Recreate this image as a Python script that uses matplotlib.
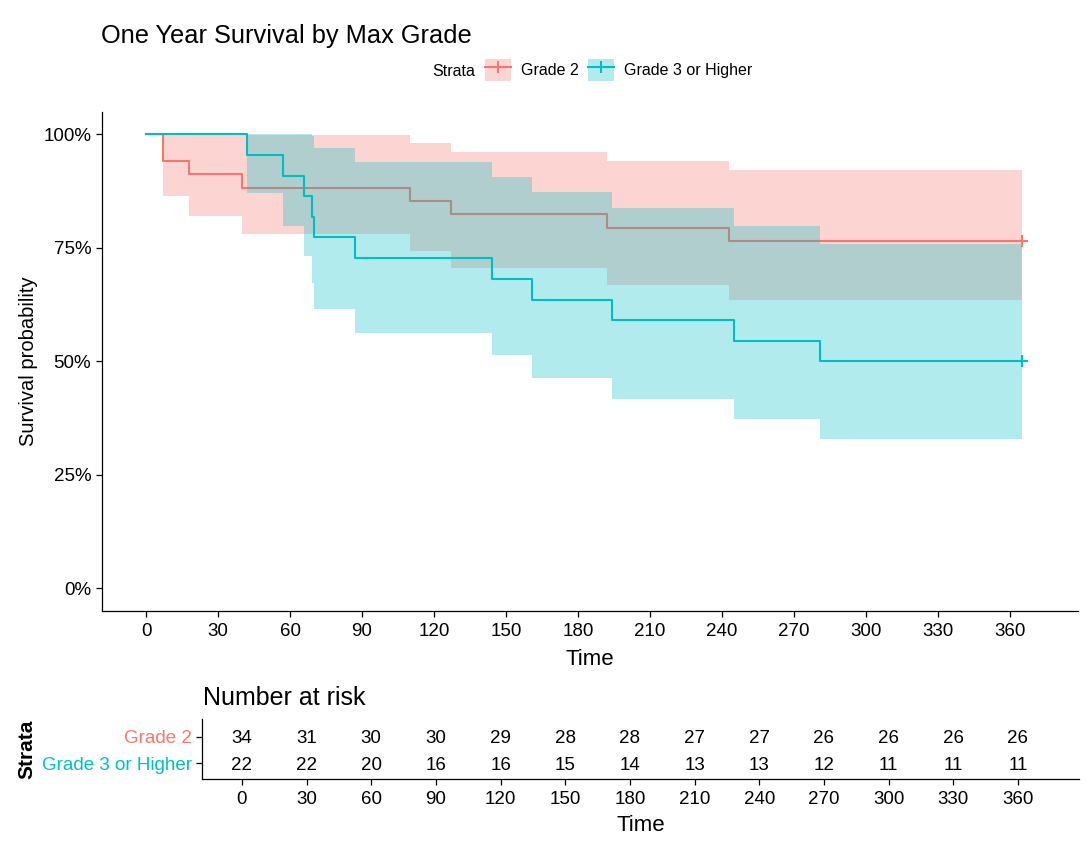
import matplotlib
matplotlib.use('Agg')
import matplotlib.pyplot as plt
from matplotlib.patches import Patch
from matplotlib.lines import Line2D
from matplotlib.ticker import PercentFormatter

# Kaplan-Meier estimates
grade2_time = [0, 7, 18, 40, 110, 127, 192, 243, 365]
grade2_surv = [1.0, 0.941, 0.912, 0.882, 0.853, 0.824, 0.794, 0.765, 0.765]
grade2_lower = [1.0, 0.865, 0.821, 0.781, 0.742, 0.705, 0.669, 0.635, 0.635]
grade2_upper = [1.0, 1.0, 1.0, 0.998, 0.981, 0.962, 0.942, 0.922, 0.922]

grade3_time = [0, 42, 57, 66, 69, 70, 87, 144, 161, 194, 245, 281, 365]
grade3_surv = [1.0, 0.955, 0.909, 0.864, 0.818, 0.773, 0.727, 0.682, 0.636,
               0.591, 0.545, 0.5, 0.5]
grade3_lower = [1.0, 0.871, 0.797, 0.732, 0.672, 0.616, 0.563, 0.513, 0.464,
                0.417, 0.372, 0.329, 0.329]
grade3_upper = [1.0, 1.0, 1.0, 1.0, 0.996, 0.969, 0.939, 0.907, 0.873,
                0.837, 0.799, 0.759, 0.759]

# number at risk table
risk_times = [0, 30, 60, 90, 120, 150, 180, 210, 240, 270, 300, 330, 360]
grade2_risk = [34, 31, 30, 30, 29, 28, 28, 27, 27, 26, 26, 26, 26]
grade3_risk = [22, 22, 20, 16, 16, 15, 14, 13, 13, 12, 11, 11, 11]

strata = ['Grade 2', 'Grade 3 or Higher']
RED = '#F8766D'
TEAL = '#00BFC4'

plt.rcParams.update({
    'font.family': ['Liberation Sans', 'DejaVu Sans'],
    'axes.spines.top': False,
    'axes.spines.right': False,
    'axes.linewidth': 0.9,
    'xtick.major.size': 4,
    'ytick.major.size': 4,
    'xtick.major.width': 0.9,
    'ytick.major.width': 0.9,
})

W, H = 1090, 843
fig = plt.figure(figsize=(W / 100, H / 100), dpi=100)


def px_axes(left, top, right, bottom):
    return fig.add_axes([left / W, 1 - bottom / H, (right - left) / W, (bottom - top) / H])


# ---- survival curves
ax = px_axes(101.7, 111.7, 1077.7, 610.7)

ax.fill_between(grade2_time, grade2_lower, grade2_upper, step='post',
                color=RED, alpha=0.3, linewidth=0, zorder=1)
ax.step(grade2_time, grade2_surv, where='post', color=RED, lw=1.5, zorder=2)
ax.fill_between(grade3_time, grade3_lower, grade3_upper, step='post',
                color=TEAL, alpha=0.3, linewidth=0, zorder=3)
ax.step(grade3_time, grade3_surv, where='post', color=TEAL, lw=1.5, zorder=4)

# censor marks at end of follow-up
ax.plot(grade2_time[-1], grade2_surv[-1], marker='+', color=RED, ms=9, mew=1.5, zorder=5)
ax.plot(grade3_time[-1], grade3_surv[-1], marker='+', color=TEAL, ms=9, mew=1.5, zorder=5)

ax.set_xlim(-18.5, 388.3)
ax.set_ylim(-0.05, 1.05)
ax.set_xticks(risk_times)
ax.set_yticks([0, 0.25, 0.5, 0.75, 1.0])
ax.yaxis.set_major_formatter(PercentFormatter(1.0, decimals=0))
ax.tick_params(labelsize=13.5, colors='black')
ax.tick_params(axis='x', pad=5)
ax.set_xlabel('Time', fontsize=16, labelpad=6)
ax.set_ylabel('Survival probability', fontsize=14.5, labelpad=4)

fig.text(101 / W, 1 - 43 / H, 'One Year Survival by Max Grade', fontsize=18.3,
         ha='left', va='baseline')

# ---- legend
fig.text(432 / W, 1 - 71 / H, 'Strata', fontsize=11.5, ha='left', va='center')
handles = [
    (Patch(facecolor=RED, alpha=0.3, linewidth=0),
     Line2D([], [], color=RED, lw=1.5, marker='+', ms=9, mew=1.5)),
    (Patch(facecolor=TEAL, alpha=0.3, linewidth=0),
     Line2D([], [], color=TEAL, lw=1.5, marker='+', ms=9, mew=1.5)),
]
fig.legend(handles, strata, ncol=2, frameon=False, fontsize=11.5,
           loc='center left', bbox_to_anchor=(485 / W, 1 - 70 / H),
           handlelength=1.6, handleheight=1.8, handletextpad=0.65,
           columnspacing=0.6, borderpad=0, borderaxespad=0)

# ---- risk table
rax = px_axes(202, 719.3, 1079, 779)
for t, n2, n3 in zip(risk_times, grade2_risk, grade3_risk):
    rax.text(t, 2, str(n2), ha='center', va='center_baseline', fontsize=13.5)
    rax.text(t, 1, str(n3), ha='center', va='center_baseline', fontsize=13.5)

rax.set_xlim(-18.5, 388.3)
rax.set_ylim(0.4, 2.65)
rax.set_xticks(risk_times)
rax.set_yticks([2, 1])
rax.set_yticklabels(strata)
for lab, col in zip(rax.get_yticklabels(), [RED, TEAL]):
    lab.set_color(col)
rax.tick_params(labelsize=13.5)
rax.tick_params(axis='x', pad=4.5)
rax.set_xlabel('Time', fontsize=16, labelpad=5)
rax.set_ylabel('Strata', fontsize=15, fontweight='bold', labelpad=4)
fig.text(202.7 / W, 1 - 705 / H, 'Number at risk', fontsize=18,
         ha='left', va='baseline')

fig.savefig('out.png', dpi=100, facecolor='white')
